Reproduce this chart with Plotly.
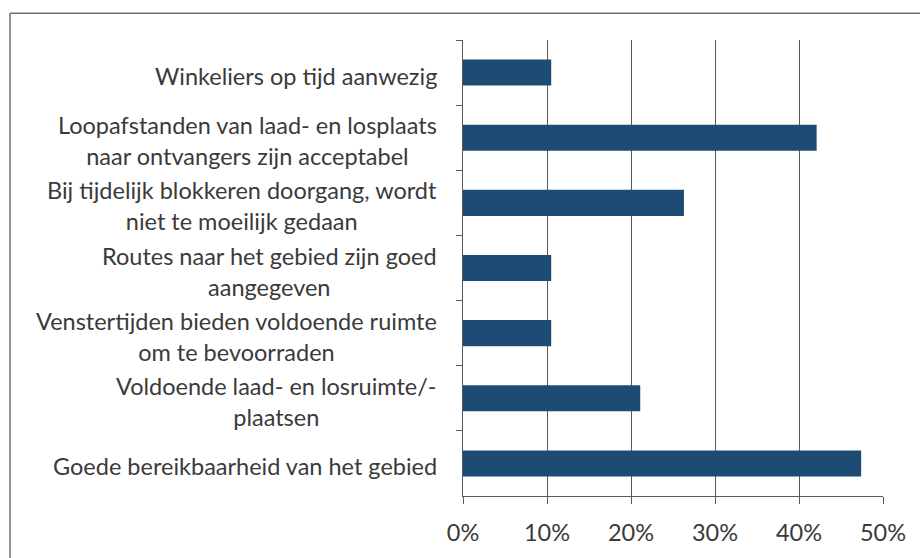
import plotly.graph_objects as go

# Survey statements (line breaks as wrapped in the axis labels) and share of respondents
statements = [
    "Winkeliers op tijd aanwezig",
    "Loopafstanden van laad- en losplaats<br>naar ontvangers zijn acceptabel",
    "Bij tijdelijk blokkeren doorgang, wordt<br>niet te moeilijk gedaan",
    "Routes naar het gebied zijn goed<br>aangegeven",
    "Venstertijden bieden voldoende ruimte<br>om te bevoorraden",
    "Voldoende laad- en losruimte/-<br>plaatsen",
    "Goede bereikbaarheid van het gebied",
]
shares = [0.105, 0.421, 0.263, 0.105, 0.105, 0.211, 0.474]
x_ticks = [0, 0.1, 0.2, 0.3, 0.4, 0.5]
x_tick_labels = ["0%", "10%", "20%", "30%", "40%", "50%"]

BAR = "#1E4B74"
TEXT = "#3a3a3a"
LINE = "#5a5a5a"
FONT = "Lato, 'Open Sans', sans-serif"
FS = 23.5

fig = go.Figure(
    go.Bar(
        x=shares,
        y=statements,
        orientation="h",
        marker=dict(color=BAR, line=dict(width=0)),
        width=0.4,
        hoverinfo="x+y",
    )
)

# Wrapped category labels, each block right of the margin with centred lines
annotations = [
    dict(
        x=0, xref="paper", xanchor="right", xshift=-24,
        y=label, yref="y", yanchor="middle", yshift=-3,
        text=label, showarrow=False, align="center",
        font=dict(family=FONT, size=FS, color=TEXT),
    )
    for label in statements
]

fig.update_layout(
    width=920, height=558,
    margin=dict(l=463, r=37, t=40, b=57),
    paper_bgcolor="white", plot_bgcolor="white",
    showlegend=False, bargap=0.6,
    font=dict(family=FONT, color=TEXT, size=FS),
    annotations=annotations,
    shapes=[
        dict(type="line", xref="paper", yref="paper",
             x0=(10 - 463) / 420, x1=(925 - 463) / 420,
             y0=(501 - 13) / 461, y1=(501 - 13) / 461,
             line=dict(color="#707070", width=1.5)),
        dict(type="line", xref="paper", yref="paper",
             x0=(10 - 463) / 420, x1=(10 - 463) / 420,
             y0=(501 - 13) / 461, y1=(501 - 565) / 461,
             line=dict(color="#707070", width=1.5)),
    ],
)

fig.update_xaxes(
    range=[0, 0.5], tickvals=x_ticks, ticktext=x_tick_labels,
    showgrid=True, gridcolor=LINE, gridwidth=1,
    showline=True, linecolor=LINE, linewidth=1,
    ticks="outside", ticklen=7, tickcolor=LINE,
    ticklabelstandoff=9,
    tickfont=dict(family=FONT, size=FS, color=TEXT),
    zeroline=False, fixedrange=True,
)
fig.update_yaxes(
    autorange="reversed", type="category",
    showticklabels=False,
    showline=True, linecolor=LINE, linewidth=1,
    ticks="outside", ticklen=6, tickcolor=LINE, tickson="boundaries",
    showgrid=False, fixedrange=True,
)

fig.write_html("out.html")
